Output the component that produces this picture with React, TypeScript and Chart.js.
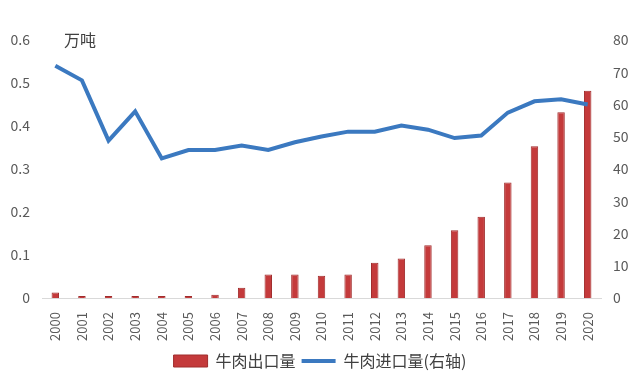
import React, { useEffect, useRef } from "react";
import { Chart, registerables } from "chart.js";

Chart.register(...registerables);

const years = ["2000","2001","2002","2003","2004","2005","2006","2007","2008","2009","2010","2011","2012","2013","2014","2015","2016","2017","2018","2019","2020"];
const exportVals = [0.013,0.005,0.005,0.005,0.005,0.005,0.008,0.024,0.055,0.055,0.052,0.055,0.082,0.092,0.123,0.158,0.189,0.269,0.353,0.432,0.482];
const importVals = [72.0,67.5,48.8,57.9,43.3,45.9,45.9,47.3,45.9,48.3,50.1,51.6,51.6,53.5,52.2,49.6,50.4,57.5,61.0,61.6,60.0];
const exportLabel = "牛肉出口量";
const importLabel = "牛肉进口量(右轴)";
const unitLabel = "万吨";

const FONT = "'Noto Sans CJK SC', 'Noto Sans', sans-serif";

const unitPlugin = {
  id: "unitText",
  afterDraw(chart: any) {
    const ctx = chart.ctx;
    const area = chart.chartArea;
    ctx.save();
    ctx.font = `16px ${FONT}`;
    ctx.fillStyle = "#404040";
    ctx.textBaseline = "middle";
    ctx.textAlign = "left";
    ctx.fillText(unitLabel, area.left + 22, area.top);
    ctx.restore();
  },
};

export default function App() {
  const ref = useRef<HTMLCanvasElement>(null);
  useEffect(() => {
    document.body.style.margin = "0";
    const chart = new Chart(ref.current!, {
      type: "bar",
      data: {
        labels: years,
        datasets: [
          {
            type: "bar",
            label: exportLabel,
            data: exportVals,
            backgroundColor: "#C43A3B",
            borderColor: "#A02C2C",
            borderWidth: 1,
            barPercentage: 0.28,
            categoryPercentage: 1,
            yAxisID: "y",
            order: 2,
            pointStyle: "rect",
          } as any,
          {
            type: "line",
            label: importLabel,
            data: importVals,
            borderColor: "#3B79C0",
            backgroundColor: "#3B79C0",
            borderWidth: 4,
            pointRadius: 0,
            tension: 0,
            yAxisID: "y1",
            order: 1,
            pointStyle: "line",
          } as any,
        ],
      },
      options: {
        responsive: false,
        animation: false,
        layout: { padding: { left: 0, right: 0, top: 40, bottom: 5 } },
        plugins: {
          legend: {
            position: "bottom",
            labels: {
              usePointStyle: true,
              pointStyleWidth: 34,
              boxHeight: 12,
              padding: 6,
              color: "#404040",
              font: { family: FONT, size: 16 },
              sort: (a: any, b: any) => a.datasetIndex - b.datasetIndex,
            },
          },
          tooltip: { enabled: false },
        },
        scales: {
          x: {
            grid: { display: false },
            border: { display: true, color: "#d9d9d9", width: 1 },
            ticks: {
              minRotation: 90,
              maxRotation: 90,
              color: "#595959",
              font: { family: FONT, size: 13 },
              padding: 6,
            },
          },
          y: {
            position: "left",
            min: 0,
            max: 0.6,
            grid: { display: false },
            border: { display: false },
            afterFit: (axis: any) => { axis.width = 42; },
            ticks: {
              stepSize: 0.1,
              color: "#595959",
              font: { family: FONT, size: 14 },
              padding: 4,
              callback: (v: any) => (Math.round(v * 10) / 10).toString(),
            },
          },
          y1: {
            position: "right",
            min: 0,
            max: 80,
            grid: { display: false },
            border: { display: false },
            afterFit: (axis: any) => { axis.width = 39; },
            ticks: {
              stepSize: 10,
              color: "#595959",
              font: { family: FONT, size: 14 },
              padding: 4,
            },
          },
        },
      },
      plugins: [unitPlugin],
    });
    return () => chart.destroy();
  }, []);
  return (
    <div style={{ position: "fixed", left: 0, top: 0, width: 640, height: 384, background: "#fff" }}>
      <canvas ref={ref} width={640} height={384} />
    </div>
  );
}
